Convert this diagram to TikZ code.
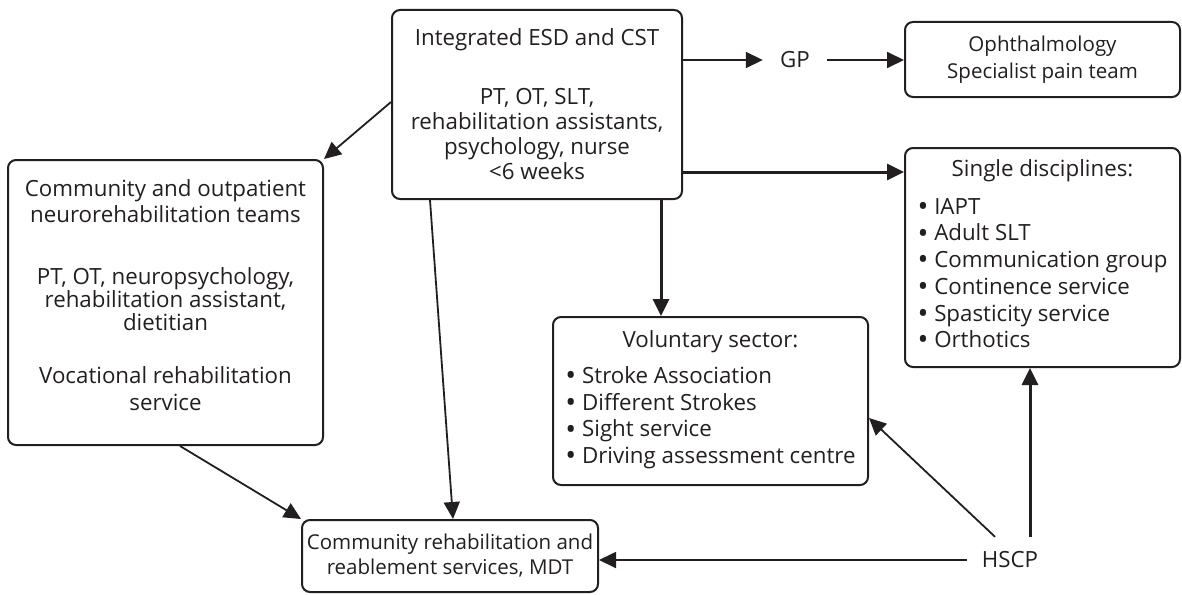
\documentclass[tikz,border=0pt]{standalone}
\usepackage{fontspec}
\setmainfont{Open Sans}
\usetikzlibrary{arrows.meta}
\definecolor{ink}{HTML}{231F20}
\newcommand\diagfont{\fontsize{22.3}{25.3}\selectfont}
\newcommand\listfont{\fontsize{22.3}{26.7}\selectfont}
\newcommand\smallboxfont{\fontsize{20.5}{25}\selectfont}
\newcommand\bul{\raisebox{-0.1em}{\scalebox{1.3}{•}}}
\begin{document}
\begin{tikzpicture}[x=1pt,y=-1pt,
  box/.style={draw=ink, line width=2pt, rounded corners=8pt, inner sep=0pt,
    align=center, font=\diagfont, text=ink},
  plain/.style={inner sep=0pt, font=\diagfont, text=ink},
  tip/.style={-{Triangle[length=17pt,width=16pt]}},
  thinarrow/.style={tip, draw=ink, line width=1.8pt},
  thickarrow/.style={tip, draw=ink, line width=3pt}
]
\useasboundingbox (0,0) rectangle (1182,594);
\fill[white] (0,0) rectangle (1182,594);

% boxes
\node[box, minimum width=290pt, minimum height=189pt] (integ) at (537,104.5)
  {Integrated ESD and CST\\[33pt]
   PT, OT, SLT,\\ rehabilitation assistants,\\ psychology, nurse\\ {<}6 weeks};
\node[box, minimum width=275pt, minimum height=75pt, font=\smallboxfont] (oph) at (1042.5,59.5)
  {Ophthalmology\\[1.5pt] Specialist pain team};
\node[box, minimum width=275pt, minimum height=219pt] (single) at (1042.5,257.5)
  {Single disciplines:\\[13pt]
   {\listfont\begin{tabular}{@{}l@{}}
   \bul\ IAPT\\ \bul\ Adult SLT\\ \bul\ Communication group\\ \bul\ Continence service\\
   \bul\ Spasticity service\\ \bul\ Orthotics
   \end{tabular}}};
\node[box, minimum width=315pt, minimum height=285pt] (left) at (165.5,302.5)
  {Community and outpatient\\[1pt] neurorehabilitation teams\\[36pt]
   PT, OT, neuropsychology,\\[-2pt] rehabilitation assistant,\\[-2pt] dietitian\\[28pt]
   Vocational rehabilitation\\[1pt] service\\[-10pt]};
\node[box, minimum width=315pt, minimum height=168pt] (vol) at (710.5,401)
  {Voluntary sector:\\[11pt]
   {\listfont\begin{tabular}{@{}l@{}}
   \bul\ Stroke Association\\ \bul\ Different Strokes\\ \bul\ Sight service\\
   \bul\ Driving assessment centre
   \end{tabular}}};
\node[box, minimum width=296pt, minimum height=72pt, font=\smallboxfont] (comm) at (450,556)
  {Community rehabilitation and\\ reablement services, MDT};

% free-standing labels
\node[plain, minimum width=64pt, minimum height=30pt] (gp) at (795,60) {GP};
\node[plain, minimum width=86pt, minimum height=46pt] (hscp) at (1010,560) {HSCP};

% connectors from the integrated team
\draw[thinarrow] (integ.east |- gp) -- (gp.west);
\draw[thinarrow] (gp.east) -- (oph.west |- gp);
\coordinate (c1) at ([yshift=-67.5pt]integ.east);
\draw[thickarrow] (c1) -- (c1 -| single.west);
\coordinate (c2) at ([xshift=124pt]integ.south);
\draw[thickarrow] (c2) -- (c2 |- vol.north);
\draw[thinarrow] ([yshift=2.5pt]integ.west) -- (left.north east);
\draw[thinarrow] ([xshift=-107pt]integ.south) -- ([xshift=3pt]comm.north);

% into community rehabilitation
\draw[thinarrow] ([xshift=14.5pt]left.south) -- (comm.north west);

% from HSCP
\draw[thinarrow] (hscp.west) -- (hscp.west -| comm.east);
\draw[thinarrow] ([xshift=-15pt]hscp.north) -- ([yshift=-17pt]vol.east);
\coordinate (c3) at ([xshift=20pt]hscp.north);
\draw[thickarrow] (c3) -- (c3 |- single.south);
\end{tikzpicture}
\end{document}
